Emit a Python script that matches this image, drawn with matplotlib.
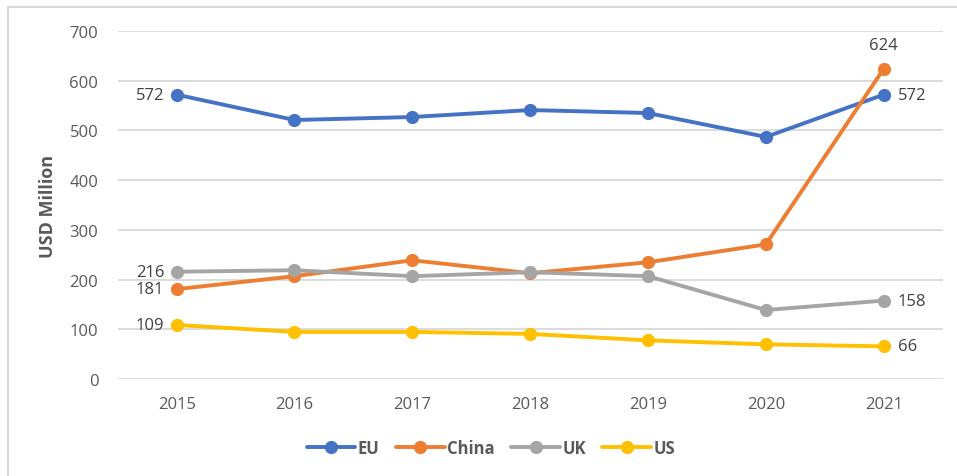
import matplotlib
matplotlib.use("Agg")
import matplotlib.pyplot as plt
from matplotlib.patches import Rectangle

years = ["2015", "2016", "2017", "2018", "2019", "2020", "2021"]
eu = [572, 521, 527, 541, 535, 487, 572]
china = [181, 207, 239, 213, 235, 271, 624]
uk = [216, 219, 207, 215, 207, 139, 158]
us = [109, 95, 95, 91, 78, 70, 66]

series = [("EU", eu, "#4472C4"), ("China", china, "#ED7D31"),
          ("UK", uk, "#A5A5A5"), ("US", us, "#FFC000")]

plt.rcParams['font.family'] = ['Open Sans', 'DejaVu Sans']
txt = "#595959"
lab = "#404040"

fig = plt.figure(figsize=(9.57, 4.77), dpi=100)
ax = fig.add_axes([0.123, 0.203, 0.862, 0.73])

x = list(range(len(years)))
for name, vals, col in series:
    ax.plot(x, vals, color=col, lw=2.8, marker='o', ms=8.5, label=name,
            solid_capstyle='round')

# data labels - first year on the left, last year on the right
for vals in [eu, uk, china, us]:
    ax.annotate(str(vals[0]), (0, vals[0]), xytext=(-9, 0), textcoords='offset points',
                ha='right', va='center', fontsize=12, color=lab)
ax.annotate(str(china[-1]), (6, china[-1]), xytext=(0, 11), textcoords='offset points',
            ha='center', va='bottom', fontsize=12, color=lab)
for vals in [eu, uk, us]:
    ax.annotate(str(vals[-1]), (6, vals[-1]), xytext=(10, 0), textcoords='offset points',
                ha='left', va='center', fontsize=12, color=lab)

ax.set_xlim(-0.5, 6.5)
ax.set_ylim(0, 700)
ax.set_yticks(range(0, 701, 100))
ax.set_xticks(x)
ax.set_xticklabels(years)
ax.grid(axis='y', color='#D9D9D9', lw=1.3)
ax.set_axisbelow(True)
for s in ax.spines.values():
    s.set_visible(False)
ax.tick_params(length=0, labelsize=12, colors=txt)
ax.tick_params(axis='x', pad=12)
ax.tick_params(axis='y', pad=14)
ax.set_ylabel("USD Million", fontsize=13, fontweight='bold', color=txt, labelpad=9)

leg = fig.legend(loc='center', bbox_to_anchor=(0.513, 0.059), ncol=4,
                 frameon=False, handlelength=2.9, columnspacing=1.0,
                 handletextpad=0.15, prop={'weight': 'bold', 'size': 12})
for t in leg.get_texts():
    t.set_color(txt)

# chart border
fig.patches.append(Rectangle((8 / 957, -0.01), 1.0, 1 - 8 / 477 + 0.01,
                             transform=fig.transFigure, fill=False,
                             edgecolor='#D9D9D9', lw=1.5))

fig.savefig("out.png", dpi=100)
